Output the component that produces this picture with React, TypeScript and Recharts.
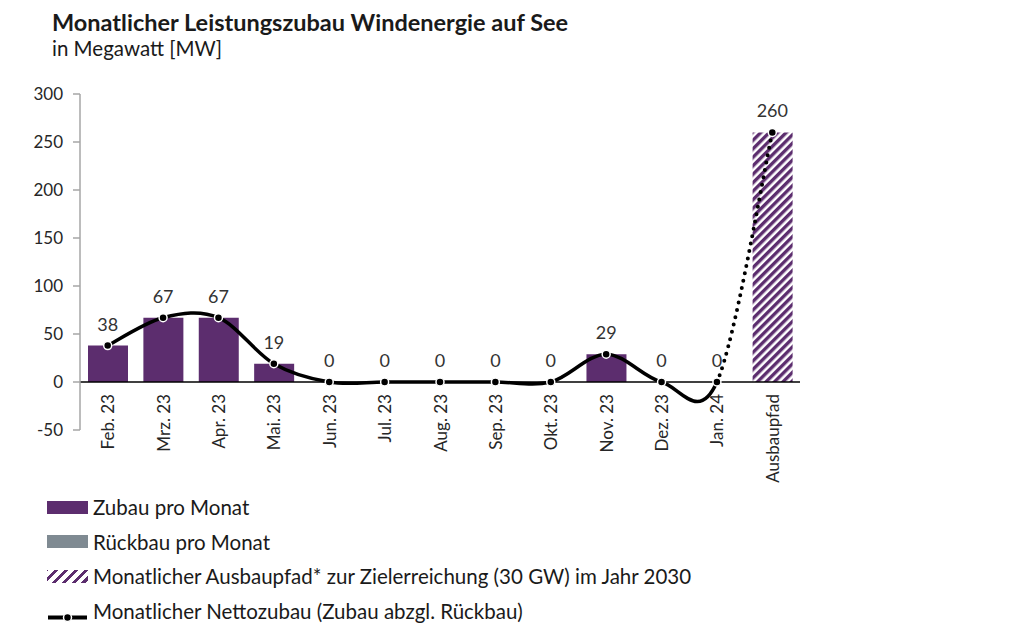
import { Bar, ComposedChart, LabelList, Line, ReferenceLine, XAxis, YAxis } from "recharts";

const months = [
  "Feb. 23", "Mrz. 23", "Apr. 23", "Mai. 23", "Jun. 23", "Jul. 23", "Aug. 23",
  "Sep. 23", "Okt. 23", "Nov. 23", "Dez. 23", "Jan. 24", "Ausbaupfad",
];
const zubau = [38, 67, 67, 19, 0, 0, 0, 0, 0, 29, 0, 0, null];
const rueckbau = [0, 0, 0, 0, 0, 0, 0, 0, 0, 0, 0, 0, null];
const ausbaupfad = [null, null, null, null, null, null, null, null, null, null, null, null, 260];
const netto = [38, 67, 67, 19, 0, 0, 0, 0, 0, 29, 0, 0, 260];
const yTicks = [-50, 0, 50, 100, 150, 200, 250, 300];

const data = months.map((m, i) => ({
  month: m,
  zubau: zubau[i],
  rueckbau: rueckbau[i],
  ausbaupfad: ausbaupfad[i],
  netto: netto[i],
}));

const PURPLE = "#5c2d6e";
const GREY = "#7f8a92";
const FONT = "Lato, 'Open Sans', sans-serif";

// Excel-like smoothed line (Catmull-Rom bezier); `keep` picks which segments get drawn,
// so the last segment (to the Ausbaupfad) can be drawn dotted by a second series.
function smoothCurve(keep: (seg: number, count: number) => boolean) {
  return (context: any) => {
    let pts: number[][] = [];
    return {
      areaStart() {},
      areaEnd() {},
      lineStart() {
        pts = [];
      },
      point(x: number, y: number) {
        pts.push([+x, +y]);
      },
      lineEnd() {
        const n = pts.length - 1;
        let moved = false;
        for (let i = 0; i < n; i++) {
          if (!keep(i, n)) {
            moved = false;
            continue;
          }
          const p0 = pts[i - 1] || pts[i];
          const p1 = pts[i];
          const p2 = pts[i + 1];
          const p3 = pts[i + 2] || p2;
          if (!moved) {
            context.moveTo(p1[0], p1[1]);
            moved = true;
          }
          context.bezierCurveTo(
            p1[0] + (p2[0] - p0[0]) / 6,
            p1[1] + (p2[1] - p0[1]) / 6,
            p2[0] - (p3[0] - p1[0]) / 6,
            p2[1] - (p3[1] - p1[1]) / 6,
            p2[0],
            p2[1]
          );
        }
      },
    };
  };
}

const solidCurve = smoothCurve((i, n) => i < n - 1);
const dottedCurve = smoothCurve((i, n) => i === n - 1);

function MonthTick({ x, y, payload }: any) {
  const ty = y - 38;
  return (
    <text
      x={x}
      y={ty}
      transform={`rotate(-90 ${x} ${ty})`}
      textAnchor="end"
      dominantBaseline="central"
      fontSize={17}
      fontFamily={FONT}
      fill="#262626"
    >
      {payload.value}
    </text>
  );
}

const dotStyle = { r: 4, fill: "#000", stroke: "#fff", strokeWidth: 1.5 };

function LegendRow({ swatch, label }: { swatch: React.ReactNode; label: string }) {
  return (
    <div style={{ display: "flex", alignItems: "center", height: 34.5 }}>
      <div style={{ width: 41, height: 13, marginRight: 5 }}>{swatch}</div>
      <span>{label}</span>
    </div>
  );
}

export default function App() {
  return (
    <div style={{ position: "absolute", left: 0, top: 0, width: 1024, height: 636, background: "#fff", fontFamily: FONT, color: "#1a1a1a" }}>
      <div style={{ position: "absolute", left: 52, top: 8, fontSize: 23.5, fontWeight: 700 }}>
        Monatlicher Leistungszubau Windenergie auf See
      </div>
      <div style={{ position: "absolute", left: 52, top: 36, fontSize: 20.5 }}>in Megawatt [MW]</div>

      <ComposedChart
        width={1024}
        height={636}
        data={data}
        margin={{ top: 94, right: 224, bottom: 176, left: 20 }}
        barCategoryGap="28%"
      >
        <defs>
          <pattern id="hatch" patternUnits="userSpaceOnUse" width="6" height="6" patternTransform="rotate(45)">
            <rect width="6" height="6" fill="#fff" />
            <rect width="3.4" height="6" fill={PURPLE} />
          </pattern>
        </defs>
        <XAxis dataKey="month" axisLine={false} tickLine={false} tickSize={0} height={30} interval={0} tick={<MonthTick />} />
        <YAxis
          domain={[-50, 300]}
          ticks={yTicks}
          width={60}
          axisLine={{ stroke: "#a6a6a6", strokeWidth: 1.5 }}
          tickLine={{ stroke: "#a6a6a6", strokeWidth: 1.5 }}
          tickSize={7}
          tick={{ fontSize: 17, fill: "#262626", fontFamily: FONT }}
          tickMargin={10}
        />
        <Bar dataKey="zubau" stackId="a" fill={PURPLE} barSize={40} isAnimationActive={false} />
        <Bar dataKey="rueckbau" stackId="a" fill={GREY} barSize={40} isAnimationActive={false} />
        <Bar dataKey="ausbaupfad" stackId="a" fill="url(#hatch)" barSize={40} isAnimationActive={false} />
        <ReferenceLine y={0} stroke="#000" strokeWidth={1.5} />
        <Line
          dataKey="netto"
          type={dottedCurve as any}
          stroke="#000"
          strokeWidth={4}
          strokeDasharray="0 7.5"
          strokeLinecap="round"
          dot={false}
          legendType="none"
          isAnimationActive={false}
        />
        <Line
          dataKey="netto"
          type={solidCurve as any}
          stroke="#000"
          strokeWidth={3.5}
          dot={dotStyle}
          isAnimationActive={false}
        >
          <LabelList dataKey="netto" position="top" offset={15} fontSize={18} fill="#333" fontFamily={FONT} />
        </Line>
      </ComposedChart>

      <div style={{ position: "absolute", left: 47, top: 490, fontSize: 20.5 }}>
        <LegendRow swatch={<div style={{ width: 41, height: 13, background: PURPLE }} />} label="Zubau pro Monat" />
        <LegendRow swatch={<div style={{ width: 41, height: 13, background: GREY }} />} label="Rückbau pro Monat" />
        <LegendRow
          swatch={
            <div
              style={{
                width: 41,
                height: 13,
                background: `repeating-linear-gradient(-45deg, #fff 0 2px, ${PURPLE} 2px 5px, #fff 5px 7px)`,
              }}
            />
          }
          label="Monatlicher Ausbaupfad* zur Zielerreichung (30 GW) im Jahr 2030"
        />
        <LegendRow
          swatch={
            <svg width={41} height={13}>
              <line x1={1} y1={6.5} x2={40} y2={6.5} stroke="#000" strokeWidth={4} />
              <circle cx={20.5} cy={6.5} r={4} fill="#000" stroke="#fff" strokeWidth={1.5} />
            </svg>
          }
          label="Monatlicher Nettozubau (Zubau abzgl. Rückbau)"
        />
      </div>
    </div>
  );
}
